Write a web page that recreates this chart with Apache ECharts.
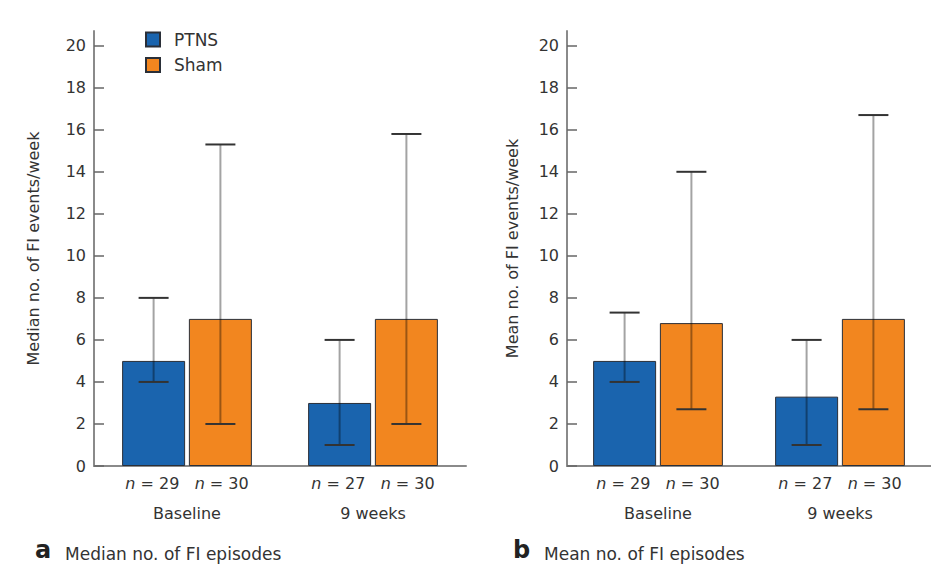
<!DOCTYPE html>
<html>
<head>
    <meta charset="utf-8">
    <title>FI episodes</title>
    <script src="https://cdn.jsdelivr.net/npm/echarts@6/dist/echarts.min.js"></script>
    <style>
        html, body { margin: 0; padding: 0; background: #fff; }
    </style>
</head>
<body>
<div id="main" style="width: 931px;height:567px;"></div>
<script type="text/javascript">
    // data
    var categories = ['Baseline', '9 weeks'];
    var nPTNS = [29, 27];
    var nSham = [30, 30];
    var yTicks = [0, 2, 4, 6, 8, 10, 12, 14, 16, 18, 20];

    // panel a: median
    var medianPTNS = [5, 3];
    var medianPTNSLow = [4, 1];
    var medianPTNSHigh = [8, 6];
    var medianSham = [7, 7];
    var medianShamLow = [2, 2];
    var medianShamHigh = [15.3, 15.8];

    // panel b: mean
    var meanPTNS = [5, 3.3];
    var meanPTNSLow = [4, 1];
    var meanPTNSHigh = [7.3, 6];
    var meanSham = [6.8, 7];
    var meanShamLow = [2.7, 2.7];
    var meanShamHigh = [14, 16.7];

    var FONT = 'DejaVu Sans';
    var BLUE = '#1a64ae';
    var ORANGE = '#f2861f';
    var BAR_W = 63;
    var OFFSET = 33.4;

    var myChart = echarts.init(document.getElementById('main'), null, {renderer: 'svg'});

    function errRows(low, high) {
        return low.map(function (v, i) { return [i, v, high[i]]; });
    }

    function errorItem(offset) {
        return function (params, api) {
            var i = api.value(0);
            var lo = api.coord([i, api.value(1)]);
            var hi = api.coord([i, api.value(2)]);
            var cx = lo[0] + offset;
            return {
                type: 'group',
                children: [
                    {type: 'line', shape: {x1: cx, y1: lo[1], x2: cx, y2: hi[1]},
                        style: {stroke: 'rgba(0,0,0,0.36)', lineWidth: 2}},
                    {type: 'line', shape: {x1: cx - 15, y1: hi[1], x2: cx + 15, y2: hi[1]},
                        style: {stroke: '#333', lineWidth: 2}},
                    {type: 'line', shape: {x1: cx - 15, y1: lo[1], x2: cx + 15, y2: lo[1]},
                        style: {stroke: '#333', lineWidth: 2}}
                ]
            };
        };
    }

    function xAxisFor(idx) {
        return {
            type: 'category',
            gridIndex: idx,
            data: categories,
            axisLine: {lineStyle: {color: '#8a8a8a', width: 2}},
            axisTick: {show: false},
            axisLabel: {
                margin: 2,
                interval: 0,
                formatter: function (val, i) {
                    return '{i|n}{t| = ' + nPTNS[i] + '   }{i|n}{t| = ' + nSham[i] + '}\n{c|' + val + '}';
                },
                rich: {
                    i: {fontFamily: FONT, fontSize: 16, fontStyle: 'italic', color: '#333', lineHeight: 30},
                    t: {fontFamily: FONT, fontSize: 16, color: '#333', lineHeight: 30},
                    c: {fontFamily: FONT, fontSize: 16, color: '#333', lineHeight: 30}
                }
            }
        };
    }

    function yAxisFor(idx, name, gap) {
        return {
            type: 'value',
            gridIndex: idx,
            min: 0,
            max: 20.7,
            name: name,
            nameLocation: 'middle',
            nameGap: gap,
            nameTextStyle: {fontFamily: FONT, fontSize: 16, color: '#333'},
            axisLine: {show: true, lineStyle: {color: '#8a8a8a', width: 2}},
            axisTick: {show: true, inside: true, length: 10, customValues: yTicks,
                lineStyle: {color: '#666', width: 1.5}},
            axisLabel: {customValues: yTicks, margin: 8, fontFamily: FONT, fontSize: 16, color: '#333'},
            splitLine: {show: false}
        };
    }

    function barSeries(name, data, color, idx) {
        return {
            name: name,
            type: 'bar',
            xAxisIndex: idx,
            yAxisIndex: idx,
            data: data,
            barWidth: BAR_W,
            barGap: '6%',
            itemStyle: {color: color, borderColor: '#2a2f38', borderWidth: 1},
            emphasis: {disabled: true}
        };
    }

    function errSeries(rows, offset, idx) {
        return {
            type: 'custom',
            xAxisIndex: idx,
            yAxisIndex: idx,
            z: 10,
            silent: true,
            renderItem: errorItem(offset),
            data: rows
        };
    }

    var option = {
        backgroundColor: '#fff',
        animation: false,
        title: [
            {left: 30, top: 533, text: '{a|a}', textStyle: {rich: {a: {fontFamily: FONT, fontSize: 24, fontWeight: 'bold', color: '#222'}}}},
            {left: 60, top: 540, text: 'Median no. of FI episodes', textStyle: {fontFamily: FONT, fontSize: 17, fontWeight: 'normal', color: '#333'}},
            {left: 508, top: 533, text: '{a|b}', textStyle: {rich: {a: {fontFamily: FONT, fontSize: 24, fontWeight: 'bold', color: '#222'}}}},
            {left: 539, top: 540, text: 'Mean no. of FI episodes', textStyle: {fontFamily: FONT, fontSize: 17, fontWeight: 'normal', color: '#333'}}
        ],
        legend: {
            data: ['PTNS', 'Sham'],
            orient: 'vertical',
            left: 140,
            top: 26,
            itemWidth: 14,
            itemHeight: 14,
            itemGap: 8.5,
            icon: 'rect',
            textStyle: {fontFamily: FONT, fontSize: 17, color: '#333', lineHeight: 14, padding: [0, 0, 0, 9]}
        },
        grid: [
            {left: 94, top: 31, width: 372, height: 435},
            {left: 567, top: 31, width: 372, height: 435}
        ],
        xAxis: [xAxisFor(0), xAxisFor(1)],
        yAxis: [
            yAxisFor(0, 'Median no. of FI events/week', 53),
            yAxisFor(1, 'Mean no. of FI events/week', 47)
        ],
        series: [
            barSeries('PTNS', medianPTNS, BLUE, 0),
            barSeries('Sham', medianSham, ORANGE, 0),
            errSeries(errRows(medianPTNSLow, medianPTNSHigh), -OFFSET, 0),
            errSeries(errRows(medianShamLow, medianShamHigh), OFFSET, 0),
            barSeries('PTNS', meanPTNS, BLUE, 1),
            barSeries('Sham', meanSham, ORANGE, 1),
            errSeries(errRows(meanPTNSLow, meanPTNSHigh), -OFFSET, 1),
            errSeries(errRows(meanShamLow, meanShamHigh), OFFSET, 1)
        ]
    };

    myChart.setOption(option);
</script>
</body>
</html>
